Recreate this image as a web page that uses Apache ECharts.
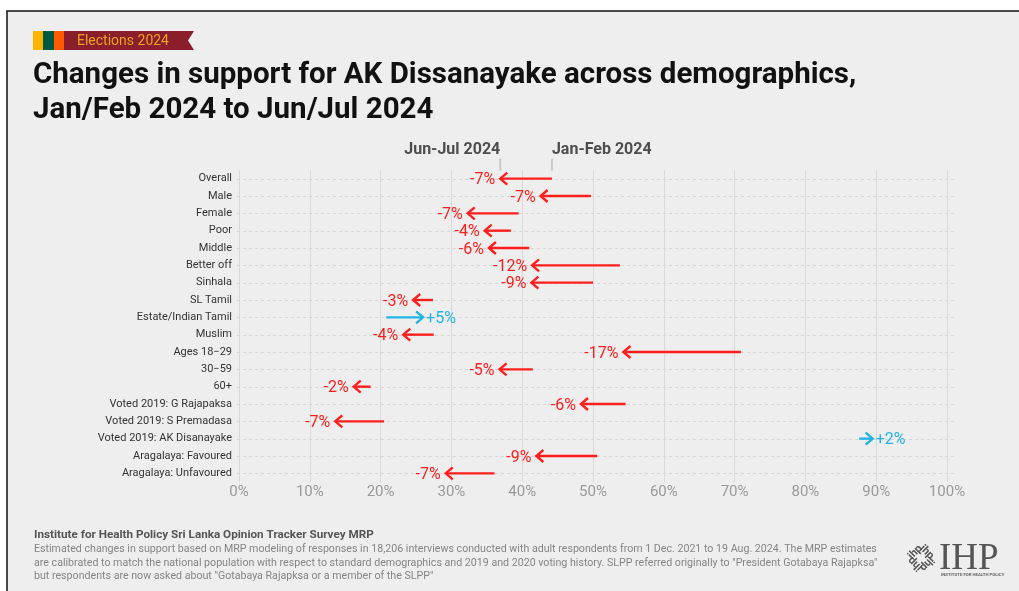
<!DOCTYPE html>
<html>
<head>
<meta charset="utf-8">
<script src="https://cdn.jsdelivr.net/npm/echarts@6/dist/echarts.min.js"></script>
<style>
  html, body { margin: 0; padding: 0; background: #ffffff; }
  #chart { width: 1019px; height: 591px; }
</style>
</head>
<body>
<div id="chart"></div>
<script>
// Demographic groups, top to bottom
const categories = [
  'Overall', 'Male', 'Female', 'Poor', 'Middle', 'Better off', 'Sinhala',
  'SL Tamil', 'Estate/Indian Tamil', 'Muslim', 'Ages 18\u221229', '30\u221259', '60+',
  'Voted 2019: G Rajapaksa', 'Voted 2019: S Premadasa', 'Voted 2019: AK Disanayake',
  'Aragalaya: Favoured', 'Aragalaya: Unfavoured'
];

// Estimated support (%) in Jan/Feb 2024 (arrow tail)
const janFeb = [44.2, 49.7, 39.5, 38.4, 41.0, 53.8, 50.0, 27.4, 20.8, 27.5, 70.9, 41.5, 18.6, 54.6, 20.5, 87.6, 50.6, 36.1];

// Estimated support (%) in Jun/Jul 2024 (arrow head)
const junJul = [36.9, 42.6, 32.3, 34.7, 35.3, 41.4, 41.3, 24.6, 26.0, 23.2, 54.3, 36.8, 16.2, 48.3, 13.6, 89.5, 42.0, 29.2];

// Period labels shown above the "Overall" arrow
const periodLabels = ['Jun-Jul 2024', 'Jan-Feb 2024'];

// Value axis ticks
const axisMin = 0, axisMax = 100, axisStep = 10;

const RED = '#ff1e1e';
const BLUE = '#22b4e6';
const FONT = 'Roboto, "Noto Sans", sans-serif';

function changeText(i) {
  const d = Math.round(junJul[i] - janFeb[i]);
  return (d > 0 ? '+' : '') + d + '%';
}

const arrowData = categories.map((c, i) => [i, janFeb[i], junJul[i]]);
const rowData = categories.map((c, i) => [i]);

function renderArrow(params, api) {
  const idx = api.value(0);
  const from = api.value(1);
  const to = api.value(2);
  const a = api.coord([from, idx]);
  const b = api.coord([to, idx]);
  const up = to > from;
  const color = up ? BLUE : RED;
  const dir = up ? -1 : 1;
  const hw = 6, hl = 7;
  const label = changeText(idx);
  return {
    type: 'group',
    children: [
      {
        type: 'line',
        shape: { x1: a[0], y1: a[1], x2: b[0] + dir * 0.5, y2: b[1] },
        style: { stroke: color, lineWidth: 2.4 }
      },
      {
        type: 'polyline',
        shape: { points: [[b[0] + dir * hl, b[1] - hw], [b[0], b[1]], [b[0] + dir * hl, b[1] + hw]] },
        style: { stroke: color, lineWidth: 2.4, fill: null }
      },
      {
        type: 'text',
        style: {
          text: label,
          x: up ? b[0] + 3 : b[0] - 5,
          y: b[1] + 1.5,
          align: up ? 'left' : 'right',
          verticalAlign: 'middle',
          fill: color,
          font: '16px ' + FONT
        }
      }
    ]
  };
}

function renderRowLine(params, api) {
  const idx = api.value(0);
  const cs = params.coordSys;
  const y = Math.round(api.coord([0, idx])[1]) + 0.5;
  return {
    type: 'line',
    shape: { x1: cs.x - 2, y1: y, x2: cs.x + cs.width + 8, y2: y },
    style: { stroke: '#d6d6d6', lineWidth: 1, lineDash: [3, 3] },
    silent: true
  };
}

function renderPeriods(params, api) {
  const idx = api.value(0);
  const jun = api.coord([api.value(2), idx]);
  const jan = api.coord([api.value(1), idx]);
  const yTop = jun[1] - 20, yBot = jun[1] - 8;
  const yText = jun[1] - 29;
  return {
    type: 'group',
    children: [
      { type: 'line', shape: { x1: jun[0], y1: yTop, x2: jun[0], y2: yBot }, style: { stroke: '#c9c9c9', lineWidth: 2 } },
      { type: 'line', shape: { x1: jan[0], y1: yTop, x2: jan[0], y2: yBot }, style: { stroke: '#c9c9c9', lineWidth: 2 } },
      { type: 'text', style: { text: periodLabels[0], x: jun[0], y: yText, align: 'right', verticalAlign: 'middle', fill: '#4d4d4d', font: 'bold 16px ' + FONT } },
      { type: 'text', style: { text: periodLabels[1], x: jan[0], y: yText, align: 'left', verticalAlign: 'middle', fill: '#4d4d4d', font: 'bold 16px ' + FONT } }
    ]
  };
}

const footNote = [
  'Estimated changes in support based on MRP modeling of responses in 18,206 interviews conducted with adult respondents from 1 Dec. 2021 to 19 Aug. 2024. The MRP estimates',
  'are calibrated to match the national population with respect to standard demographics and 2019 and 2020 voting history. SLPP referred originally to "President Gotabaya Rajapksa"',
  'but respondents are now asked about "Gotabaya Rajapksa or a member of the SLPP"'
];

// Logo mark: four "ihp" words set round a rotated square
const logoWords = [0, 1, 2, 3].map(k => ({
  type: 'text',
  rotation: -k * Math.PI / 2,
  originX: 0, originY: 0,
  style: { text: 'ihp', x: 0, y: -8, align: 'center', verticalAlign: 'middle', fill: '#555', font: 'bold 11px ' + FONT }
}));

const chart = echarts.init(document.getElementById('chart'), null, { renderer: 'canvas' });

chart.setOption({
  backgroundColor: '#ffffff',
  animation: false,
  textStyle: { fontFamily: FONT },
  grid: { left: 239, right: 72, top: 170, height: 312, containLabel: false },
  xAxis: {
    type: 'value',
    min: axisMin, max: axisMax, interval: axisStep,
    axisLine: { show: false },
    axisTick: { show: false },
    axisLabel: { formatter: '{value}%', fontSize: 15, color: '#9a9a9a', margin: 3, fontFamily: FONT },
    splitLine: { lineStyle: { color: '#d9d9d9', width: 1 } }
  },
  yAxis: {
    type: 'category',
    data: categories,
    inverse: true,
    axisLine: { show: false },
    axisTick: { show: false },
    axisLabel: { fontSize: 11, color: '#333333', margin: 7, fontFamily: FONT },
    splitLine: { show: false }
  },
  graphic: [
    // panel with frame
    { type: 'rect', z: -10, shape: { x: 7, y: 11, width: 1040, height: 600 }, style: { fill: '#eeeeee', stroke: '#111111', lineWidth: 1.5 } },
    // section badge
    { type: 'rect', shape: { x: 33, y: 31, width: 10, height: 19 }, style: { fill: '#ffb400' } },
    { type: 'rect', shape: { x: 43, y: 31, width: 11, height: 19 }, style: { fill: '#005a41' } },
    { type: 'rect', shape: { x: 54, y: 31, width: 10, height: 19 }, style: { fill: '#ff5a00' } },
    { type: 'polygon', shape: { points: [[64, 31], [194, 31], [188, 40.5], [194, 50], [64, 50]] }, style: { fill: '#8b1e2b' } },
    { type: 'text', style: { text: 'Elections 2024', x: 77, y: 41, verticalAlign: 'middle', fill: '#eba21f', font: '14px ' + FONT } },
    // heading
    { type: 'text', style: { text: 'Changes in support for AK Dissanayake across demographics,', x: 33, y: 76, verticalAlign: 'middle', fill: '#111111', font: 'bold 29.5px ' + FONT } },
    { type: 'text', style: { text: 'Jan/Feb 2024 to Jun/Jul 2024', x: 33, y: 111, verticalAlign: 'middle', fill: '#111111', font: 'bold 29.5px ' + FONT } },
    // source and notes
    { type: 'text', style: { text: 'Institute for Health Policy Sri Lanka Opinion Tracker Survey MRP', x: 34, y: 535, verticalAlign: 'middle', fill: '#555555', font: 'bold 11.7px ' + FONT } },
    { type: 'text', style: { text: footNote[0], x: 34, y: 549.5, verticalAlign: 'middle', fill: '#858585', font: '10.65px ' + FONT } },
    { type: 'text', style: { text: footNote[1], x: 34, y: 563, verticalAlign: 'middle', fill: '#858585', font: '10.65px ' + FONT } },
    { type: 'text', style: { text: footNote[2], x: 34, y: 576.5, verticalAlign: 'middle', fill: '#858585', font: '10.65px ' + FONT } },
    // logo
    { type: 'group', x: 921, y: 558, rotation: Math.PI / 4, children: logoWords },
    { type: 'text', style: { text: 'IHP', x: 939, y: 559, verticalAlign: 'middle', fill: '#555555', font: '37px "Liberation Serif", "DejaVu Serif", serif' } },
    { type: 'text', style: { text: 'INSTITUTE FOR HEALTH POLICY', x: 941, y: 575, verticalAlign: 'middle', fill: '#666666', font: 'bold 4.3px ' + FONT } }
  ],
  series: [
    {
      type: 'custom',
      name: 'rows',
      z: 1,
      silent: true,
      renderItem: renderRowLine,
      encode: { y: 0 },
      data: rowData
    },
    {
      type: 'custom',
      name: 'periods',
      z: 2,
      silent: true,
      renderItem: renderPeriods,
      encode: { x: [1, 2], y: 0 },
      data: arrowData.slice(0, 1)
    },
    {
      type: 'custom',
      name: 'change',
      z: 3,
      renderItem: renderArrow,
      encode: { x: [1, 2], y: 0 },
      data: arrowData
    }
  ]
});
</script>
</body>
</html>
